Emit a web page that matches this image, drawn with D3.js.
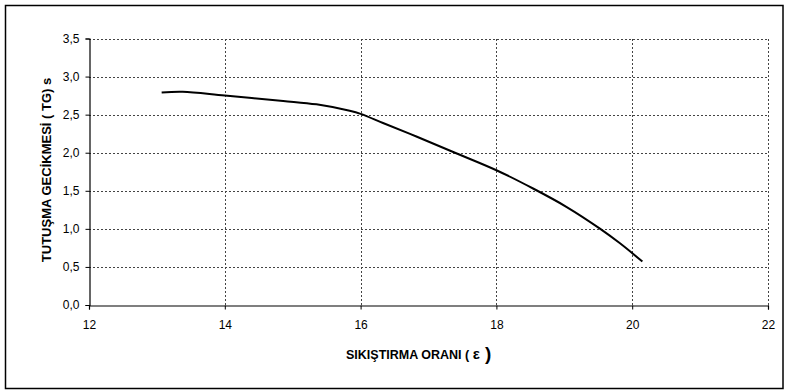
<!DOCTYPE html>
<html>
<head>
<meta charset="utf-8">
<script src="https://cdn.jsdelivr.net/npm/d3@7"></script>
<style>
  html, body { margin: 0; padding: 0; background: #fff; }
  svg { display: block; font-family: "Liberation Sans", Arial, sans-serif; }
</style>
</head>
<body>
<svg id="chart" width="789" height="390"></svg>
<script>
// Compression ratio (ε) and ignition delay (TG, s)
const ratio = [13.07, 13.38, 14.0, 14.86, 15.35, 15.84, 16.0, 16.33, 16.83, 17.39, 18.0, 18.54, 19.03, 19.53, 19.82, 20.15];
const delay = [2.79, 2.80, 2.75, 2.68, 2.635, 2.55, 2.51, 2.39, 2.21, 2.00, 1.77, 1.53, 1.29, 1.00, 0.81, 0.57];

const xTicks = [12, 14, 16, 18, 20, 22];
const yTicks = [0, 0.5, 1.0, 1.5, 2.0, 2.5, 3.0, 3.5];

const xTitle = "SIKIŞTIRMA ORANI ( ";
const xTitleSym = "ε";
const xTitleClose = " )";
const yTitle = "TUTUŞMA GECİKMESİ ( TG) s";

const svg = d3.select("#chart");
const W = 789, H = 390;
const m = { left: 89, right: 21, top: 38.5, bottom: 85 };

// outer frame
svg.append("rect")
  .attr("x", 5.5).attr("y", 5.5)
  .attr("width", W - 11.5).attr("height", H - 7)
  .attr("fill", "#fff").attr("stroke", "#000").attr("stroke-width", 1.5);

const x = d3.scaleLinear().domain([12, 22]).range([m.left, W - m.right]);
const y = d3.scaleLinear().domain([0, 3.5]).range([H - m.bottom, m.top]);

const fmt = d => d3.format(".1f")(d).replace(".", ",");

// grid
const grid = svg.append("g").attr("stroke", "#444").attr("stroke-width", 1).attr("stroke-dasharray", "2,2");
yTicks.filter(d => d > 0).forEach(d => {
  grid.append("line").attr("x1", x(12)).attr("x2", x(22))
    .attr("y1", Math.round(y(d)) + 0.5).attr("y2", Math.round(y(d)) + 0.5);
});
xTicks.filter(d => d > 12).forEach(d => {
  grid.append("line").attr("y1", y(0)).attr("y2", y(3.5))
    .attr("x1", Math.round(x(d)) + 0.5).attr("x2", Math.round(x(d)) + 0.5);
});

// axes
const xAxis = d3.axisBottom(x).tickValues(xTicks).tickSize(4).tickPadding(11).tickFormat(d3.format("d"));
const yAxis = d3.axisLeft(y).tickValues(yTicks).tickSize(4).tickPadding(6).tickFormat(fmt);

const gx = svg.append("g").attr("transform", `translate(0,${Math.round(y(0)) + 0.5})`).call(xAxis);
const gy = svg.append("g").attr("transform", `translate(${Math.round(x(12)) + 0.5},0)`).call(yAxis);
[gx, gy].forEach(g => {
  g.select(".domain").attr("stroke", "#000").attr("stroke-width", 1.2);
  g.selectAll(".tick line").attr("stroke", "#000");
  g.selectAll(".tick text").attr("fill", "#000").style("font-size", "12px")
    .style("font-family", "'Liberation Sans', Arial, sans-serif");
});

// curve
const pts = ratio.map((r, i) => [r, delay[i]]);
svg.append("path")
  .datum(pts)
  .attr("fill", "none").attr("stroke", "#000").attr("stroke-width", 2)
  .attr("d", d3.line().x(d => x(d[0])).y(d => y(d[1])).curve(d3.curveCatmullRom.alpha(0.5)));

// axis titles
const xt = svg.append("text")
  .attr("x", 346).attr("y", 359)
  .attr("font-size", "12.5px").attr("font-weight", "bold").attr("fill", "#000")
  .text(xTitle);
xt.append("tspan").attr("font-size", "15px").text(xTitleSym);
xt.append("tspan").attr("font-size", "19px").attr("dy", 1).text(xTitleClose);

svg.append("text")
  .attr("transform", `translate(51,170) rotate(-90)`)
  .attr("text-anchor", "middle")
  .attr("font-size", "13px").attr("font-weight", "bold").attr("fill", "#000")
  .text(yTitle);
</script>
</body>
</html>
